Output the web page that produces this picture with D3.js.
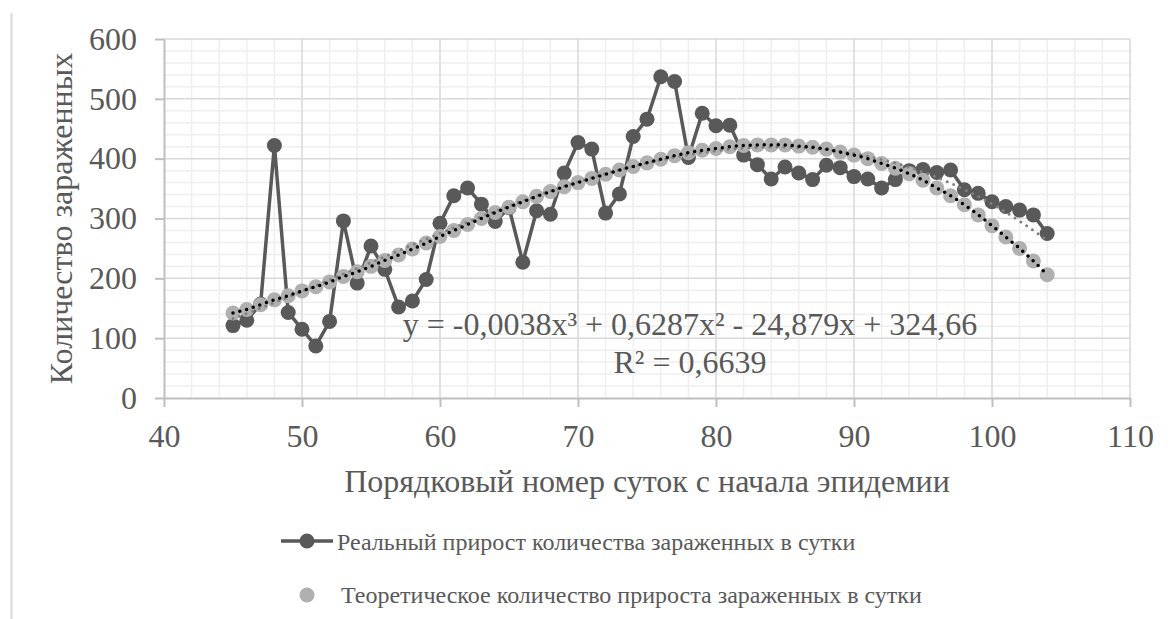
<!DOCTYPE html>
<html>
<head>
<meta charset="utf-8">
<script src="https://cdnjs.cloudflare.com/ajax/libs/d3/7.8.5/d3.min.js"></script>
<style>
  body { margin: 0; background: #fff; }
</style>
</head>
<body>
<svg id="chart" width="1173" height="619"></svg>
<script>
var days = [45, 46, 47, 48, 49, 50, 51, 52, 53, 54, 55, 56, 57, 58, 59, 60, 61, 62, 63, 64,
            65, 66, 67, 68, 69, 70, 71, 72, 73, 74, 75, 76, 77, 78, 79, 80, 81, 82, 83, 84,
            85, 86, 87, 88, 89, 90, 91, 92, 93, 94, 95, 96, 97, 98, 99, 100, 101, 102, 103, 104];

var realGrowth = [121, 130, 157, 422, 143, 115, 87, 128, 296, 192, 254, 215, 152, 162, 198, 292, 338, 351, 324, 295,
                  318, 227, 313, 307, 376, 427, 416, 309, 341, 437, 466, 537, 529, 402, 476, 455, 456, 406, 390, 366,
                  386, 376, 365, 389, 385, 370, 366, 351, 365, 380, 382, 377, 381, 348, 342, 328, 320, 314, 306, 275];

var theoGrowth = [142, 148, 156, 164, 171, 179, 186, 194, 203, 211, 220, 230, 239, 249, 259, 270, 280, 290, 300, 310,
                  319, 328, 337, 345, 353, 360, 367, 374, 381, 387, 393, 399, 405, 410, 414, 417, 420, 422, 423, 423,
                  423, 421, 419, 416, 411, 406, 400, 392, 384, 375, 364, 351, 338, 323, 306, 288, 269, 250, 229, 206];

var xTicks = [40, 50, 60, 70, 80, 90, 100, 110];
var yTicks = [0, 100, 200, 300, 400, 500, 600];

var seriesNames = ["Реальный прирост количества зараженных в сутки",
                   "Теоретическое количество прироста зараженных в сутки"];
var xTitle = "Порядковый номер суток с начала эпидемии";
var yTitle = "Количество зараженных";
var eqText = "y = -0,0038x³ + 0,6287x² - 24,879x + 324,66";
var r2Text = "R² = 0,6639";

var dark = "#595959", light = "#b0b0b0";
var serif = "'Liberation Serif', 'Times New Roman', serif";

var svg = d3.select("#chart").attr("font-family", serif);

var x = d3.scaleLinear().domain([40, 110]).range([164, 1130]);
var y = d3.scaleLinear().domain([0, 600]).range([398, 39]);

// chart border (only left edge shows)
svg.append("line")
    .attr("x1", 11.5).attr("x2", 11.5).attr("y1", 13).attr("y2", 619)
    .attr("stroke", "#d9d9d9").attr("stroke-width", 2);

// grid
var minorX = d3.range(42, 110, 2).filter(function(d) { return d % 10 != 0; });
var minorY = d3.range(20, 600, 20).filter(function(d) { return d % 100 != 0; });
var grid = svg.append("g");
grid.selectAll(".mx").data(minorX).enter().append("line")
    .attr("x1", x).attr("x2", x).attr("y1", y(0)).attr("y2", y(600))
    .attr("stroke", "#efefef").attr("stroke-width", 1.5);
grid.selectAll(".my").data(minorY).enter().append("line")
    .attr("x1", x(40)).attr("x2", x(110)).attr("y1", y).attr("y2", y)
    .attr("stroke", "#efefef").attr("stroke-width", 1.5);
grid.selectAll(".gx").data(xTicks.slice(1)).enter().append("line")
    .attr("x1", x).attr("x2", x).attr("y1", y(0)).attr("y2", y(600))
    .attr("stroke", "#d9d9d9").attr("stroke-width", 1.5);
grid.selectAll(".gy").data(yTicks.slice(1)).enter().append("line")
    .attr("x1", x(40)).attr("x2", x(110)).attr("y1", y).attr("y2", y)
    .attr("stroke", "#d9d9d9").attr("stroke-width", 1.5);

// axes
var xAxis = svg.append("g")
    .attr("transform", "translate(0," + y(0) + ")")
    .call(d3.axisBottom(x).tickValues(xTicks).tickSize(9).tickPadding(17).tickSizeOuter(0));
var yAxis = svg.append("g")
    .attr("transform", "translate(" + x(40) + ",0)")
    .call(d3.axisLeft(y).tickValues(yTicks).tickSize(9).tickPadding(18).tickSizeOuter(0));
[xAxis, yAxis].forEach(function(a) {
  a.attr("font-family", serif).attr("font-size", 32);
  a.select(".domain").attr("stroke", "#bfbfbf").attr("stroke-width", 2);
  a.selectAll(".tick line").attr("stroke", "#bfbfbf").attr("stroke-width", 2);
  a.selectAll(".tick text").attr("fill", dark);
});

// axis titles
svg.append("text")
    .attr("x", (x(40) + x(110)) / 2).attr("y", 492)
    .attr("text-anchor", "middle").attr("font-size", 32).attr("fill", dark)
    .text(xTitle);
svg.append("text")
    .attr("transform", "translate(72," + (y(0) + y(600)) / 2 + ") rotate(-90)")
    .attr("text-anchor", "middle").attr("font-size", 32).attr("fill", dark)
    .text(yTitle);

var real = days.map(function(d, i) { return {x: d, y: realGrowth[i]}; });
var theo = days.map(function(d, i) { return {x: d, y: theoGrowth[i]}; });

// real series
svg.append("path")
    .datum(real)
    .attr("fill", "none").attr("stroke", dark).attr("stroke-width", 3.5)
    .attr("stroke-linejoin", "round")
    .attr("d", d3.line().x(function(d) { return x(d.x); }).y(function(d) { return y(d.y); }));
svg.append("g").selectAll("circle").data(real).enter().append("circle")
    .attr("cx", function(d) { return x(d.x); })
    .attr("cy", function(d) { return y(d.y); })
    .attr("r", 7.5).attr("fill", dark);

// theoretical series
svg.append("g").selectAll("circle").data(theo).enter().append("circle")
    .attr("cx", function(d) { return x(d.x); })
    .attr("cy", function(d) { return y(d.y); })
    .attr("r", 7.5).attr("fill", light);

// cubic least squares fit for the real series trendline
function polyfit(xs, ys, deg) {
  var n = deg + 1, A = [], i, j, k;
  for (i = 0; i < n; i++) {
    A.push([]);
    for (j = 0; j < n; j++) A[i].push(d3.sum(xs, function(v) { return Math.pow(v, i + j); }));
    A[i].push(d3.sum(xs, function(v, t) { return ys[t] * Math.pow(v, i); }));
  }
  for (i = 0; i < n; i++) {
    var p = i;
    for (k = i + 1; k < n; k++) if (Math.abs(A[k][i]) > Math.abs(A[p][i])) p = k;
    var tmp = A[i]; A[i] = A[p]; A[p] = tmp;
    for (k = i + 1; k < n; k++) {
      var f = A[k][i] / A[i][i];
      for (j = i; j <= n; j++) A[k][j] -= f * A[i][j];
    }
  }
  var c = new Array(n);
  for (i = n - 1; i >= 0; i--) {
    var s = A[i][n];
    for (j = i + 1; j < n; j++) s -= A[i][j] * c[j];
    c[i] = s / A[i][i];
  }
  return c;
}
var coef = polyfit(days, realGrowth, 3);
var trend = d3.range(days[0], days[days.length - 1] + 0.01, 0.25).map(function(v) {
  return {x: v, y: coef[0] + coef[1] * v + coef[2] * v * v + coef[3] * v * v * v};
});

var line = d3.line().x(function(d) { return x(d.x); }).y(function(d) { return y(d.y); });

svg.append("path")
    .datum(trend)
    .attr("fill", "none").attr("stroke", "#808080").attr("stroke-width", 3)
    .attr("stroke-linecap", "round").attr("stroke-dasharray", "0,7")
    .attr("d", line);

svg.append("path")
    .datum(theo)
    .attr("fill", "none").attr("stroke", "#000").attr("stroke-width", 3.5)
    .attr("stroke-linecap", "round").attr("stroke-dasharray", "0,7")
    .attr("d", line.curve(d3.curveCatmullRom));

// equation
svg.append("text")
    .attr("x", 690).attr("y", 335)
    .attr("text-anchor", "middle").attr("font-size", 32).attr("fill", dark)
    .text(eqText);
svg.append("text")
    .attr("x", 690).attr("y", 373)
    .attr("text-anchor", "middle").attr("font-size", 32).attr("fill", dark)
    .text(r2Text);

// legend
var lg = svg.append("g").attr("font-size", 24);
lg.append("line")
    .attr("x1", 281).attr("x2", 333).attr("y1", 541).attr("y2", 541)
    .attr("stroke", dark).attr("stroke-width", 3.5);
lg.append("circle").attr("cx", 307).attr("cy", 541).attr("r", 7.5).attr("fill", dark);
lg.append("text").attr("x", 337).attr("y", 550).attr("fill", dark).text(seriesNames[0]);
lg.append("circle").attr("cx", 307).attr("cy", 595).attr("r", 7.5).attr("fill", light);
lg.append("text").attr("x", 341).attr("y", 603).attr("fill", dark).text(seriesNames[1]);
</script>
</body>
</html>
